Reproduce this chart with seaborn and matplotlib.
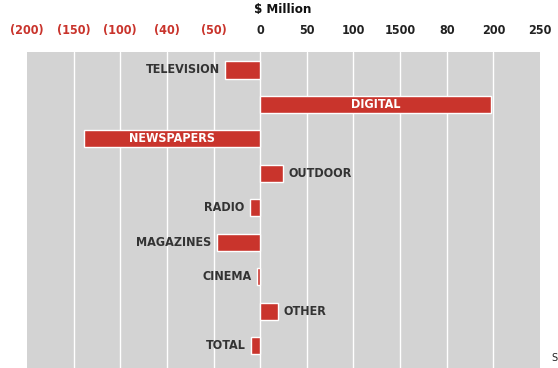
import seaborn as sns
import matplotlib.pyplot as plt
import pandas as pd

# data (units: one gridline step = 50)
media = ["TELEVISION", "DIGITAL", "NEWSPAPERS", "OUTDOOR", "RADIO",
         "MAGAZINES", "CINEMA", "OTHER", "TOTAL"]
change = [-37.5, 248, -189, 24, -11, -46.5, -3, 19, -9.5]
inside = ["DIGITAL", "NEWSPAPERS"]  # labels drawn inside the bar

tick_pos = [-250, -200, -150, -100, -50, 0, 50, 100, 150, 200, 250, 300]
tick_labels = ["(200)", "(150)", "(100)", "(40)", "(50)", "0",
               "50", "100", "1500", "80", "200", "250"]

df = pd.DataFrame({"media": media, "change": change})

RED = "#C9342C"
GREY = "#D3D3D3"
DARK = "#333333"
FONT = dict(family="DejaVu Sans", fontstretch="condensed", fontweight="bold")

sns.set_style("white")

fig = plt.figure(figsize=(5.58, 3.68), dpi=100)
ax = fig.add_axes([27 / 558, 0, 513 / 558, 1 - 52 / 368])
ax.set_facecolor(GREY)

sns.barplot(data=df, y="media", x="change", orient="h", color=RED,
            width=0.5, saturation=1, ax=ax, zorder=3)

for x in tick_pos[1:-1]:
    ax.axvline(x, color="white", lw=1.0, zorder=1)

ax.set_xlim(-250, 300)
ax.set_ylim(8.65, -0.52)
ax.xaxis.tick_top()
ax.set_xticks(tick_pos)
ax.set_xticklabels(tick_labels)
for lab in ax.get_xticklabels():
    lab.set_color(RED if lab.get_text().startswith("(") else "#222222")
    lab.set_fontsize(9)
    lab.set_fontweight("bold")
    lab.set_fontstretch("condensed")
ax.tick_params(axis="x", length=0, pad=11)
ax.set_yticks([])
ax.set_xlabel("")
ax.set_ylabel("")
for s in ax.spines.values():
    s.set_visible(False)

for i, (m, v) in enumerate(zip(media, change)):
    if m in inside:
        ax.text(v / 2, i, m, ha="center", va="center", color="white",
                fontsize=9, zorder=4, **FONT)
    elif v < 0:
        ax.text(v - 6, i, m, ha="right", va="center", color=DARK,
                fontsize=9, zorder=4, **FONT)
    else:
        ax.text(v + 6, i, m, ha="left", va="center", color=DARK,
                fontsize=9, zorder=4, **FONT)

fig.text(283 / 558, 1 - 9 / 368, "$ Million", ha="center", va="center",
         color="#111111", fontsize=9.5, **FONT)
fig.text(551 / 558, 1 - 358 / 368, "S", ha="left", va="center",
         color="#222222", fontsize=7)

fig.savefig("out.png", dpi=100)
